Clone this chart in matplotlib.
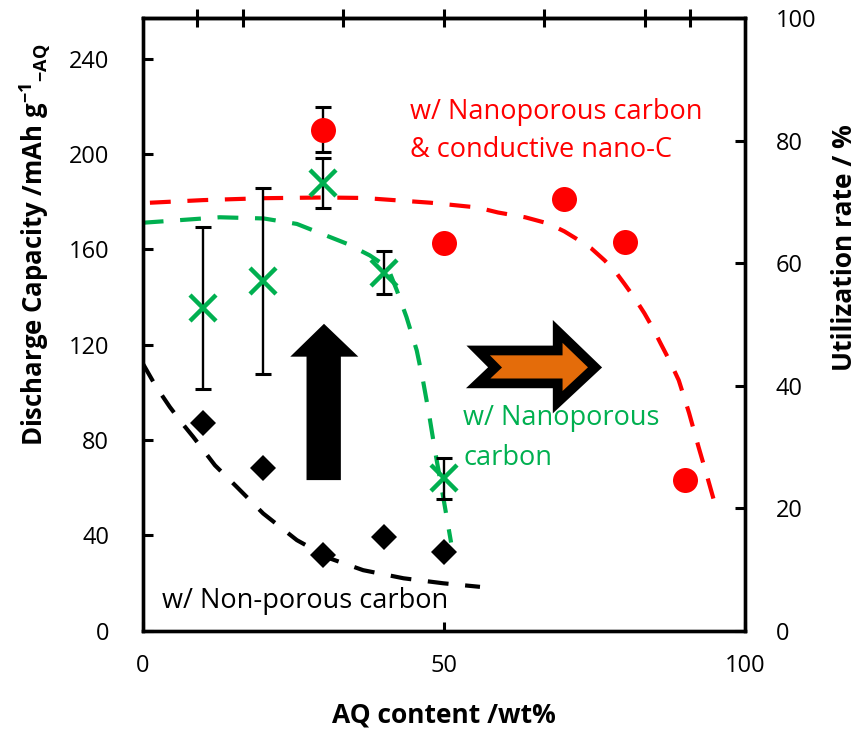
import matplotlib
matplotlib.use('Agg')
import matplotlib.pyplot as plt
from matplotlib.patches import Polygon

plt.rcParams['font.family'] = ['Open Sans', 'DejaVu Sans']
plt.rcParams['mathtext.fontset'] = 'custom'
plt.rcParams['mathtext.rm'] = 'Open Sans'
plt.rcParams['mathtext.bf'] = 'Open Sans:bold'

# measured points, AQ content (wt%) vs discharge capacity (mAh g-1 AQ)
aq_wt = [10, 20, 30, 40, 50]
cap_nonporous = [87, 68.2, 31.7, 39.2, 33]
cap_nanoporous = [135.6, 146.6, 188, 150.3, 64]
err_nanoporous = [34, 39, 10.5, 9, 8.6]
aq_wt_nanoC = [30, 50, 70, 80, 90]
cap_nanoC = [210.3, 162.5, 181.2, 163.2, 63.2]
err_nanoC = [9.3]  # only the 30 wt% point has an error bar

# hand-drawn guide curves
black_fit_x = [0, 2.2, 4.5, 6.5, 8.4, 12, 15.6, 20, 25.6, 31.1, 36.6, 43.3, 49.9, 56]
black_fit_y = [112.2, 102.5, 93.9, 87.2, 81.3, 69.4, 60.4, 49.2, 38, 30.3, 25.4, 22, 19.9, 18.4]
green_fit_x = [0, 3.4, 12.8, 20.1, 25.6, 30.5, 33.9, 37.7, 39.6, 41.1, 42.2, 43.8,
               45.5, 46.5, 47.5, 48.5, 49.9, 51.2]
green_fit_y = [171.2, 171.8, 173.5, 173, 170.7, 165.8, 162.4, 157.5, 154.3, 149.8, 142.8, 131.6,
               117.6, 105.5, 91.5, 76, 56, 37]
red_fit_x = [1.2, 10, 20, 30, 36.7, 47.8, 55.6, 59, 63.5, 67.3, 70, 72, 74.5, 76.7, 78.5,
             80, 81.7, 83.3, 84.7, 86, 87.5, 89, 90.7, 92.3, 93.8, 95.3]
red_fit_y = [179.6, 180.7, 181.5, 181.8, 181.6, 179.6, 177.6, 175.5, 173.5, 170.9, 167.6,
             164.5, 160.4, 155.4, 150.6, 145.5, 139.5, 133.2, 127, 120.5, 113.2, 105.1,
             91.5, 77, 64, 50.6]

theoretical_cap = 257  # 100 % utilization
left_ticks = [0, 40, 80, 120, 160, 200, 240]
right_ticks = [0, 20, 40, 60, 80, 100]
bottom_ticks = [0, 50, 100]
top_ticks = [100 / 11, 100 / 6, 100 / 3, 50, 200 / 3, 500 / 6, 1000 / 11]

RED = '#FF0000'
GREEN = '#00B050'
ORANGE = '#E46C0A'

fig = plt.figure(figsize=(8.66, 7.39), dpi=100)
ax = fig.add_axes([142.7 / 866, 1 - 630.7 / 739, 602.3 / 866, 612.4 / 739])

ax.plot(red_fit_x, red_fit_y, color=RED, lw=3, dashes=(5, 4), zorder=2)
ax.plot(green_fit_x, green_fit_y, color=GREEN, lw=3, dashes=(5, 4), zorder=2)
ax.plot(black_fit_x, black_fit_y, color='black', lw=3, dashes=(5, 4), zorder=2)

ax.errorbar(aq_wt, cap_nanoporous, yerr=err_nanoporous, fmt='none', ecolor='black',
            elinewidth=1.7, capsize=6, capthick=2.2, zorder=3)
ax.errorbar(aq_wt_nanoC[:1], cap_nanoC[:1], yerr=err_nanoC, fmt='none', ecolor='black',
            elinewidth=1.7, capsize=6, capthick=2.2, zorder=3)

ax.plot(aq_wt, cap_nonporous, 'D', color='black', ms=13.5, mew=0, zorder=4)
ax.plot(aq_wt, cap_nanoporous, 'x', color=GREEN, ms=19, mew=3.2, zorder=4)
ax.plot(aq_wt_nanoC, cap_nanoC, 'o', color=RED, ms=18, mew=0, zorder=4)

# arrows
up_arrow = Polygon([(27.2, 63.2), (32.9, 63.2), (32.9, 115), (35.8, 115), (30.1, 128.8),
                    (24.5, 115), (27.2, 115)], closed=True, facecolor='black',
                   edgecolor='none', zorder=3)
ax.add_patch(up_arrow)
right_arrow = Polygon([(55.7, 117.6), (68.9, 117.6), (68.9, 125.6), (75.1, 110.5),
                       (68.9, 95.9), (68.9, 103.8), (55.7, 103.8), (58.5, 110.5)],
                      closed=True, facecolor=ORANGE, edgecolor='black', lw=7,
                      joinstyle='miter', zorder=5)
ax.add_patch(right_arrow)

# annotations
fs = 19.5
ax.text(44.4, 214.8, 'w/ Nanoporous carbon', color=RED, fontsize=fs, va='baseline')
ax.text(44.4, 198.7, '& conductive nano-C', color=RED, fontsize=fs, va='baseline')
ax.text(53.2, 86.2, 'w/ Nanoporous', color=GREEN, fontsize=fs, va='baseline')
ax.text(53.2, 69.4, 'carbon', color=GREEN, fontsize=fs, va='baseline')
ax.text(3.15, 9.4, 'w/ Non-porous carbon', color='black', fontsize=fs, va='baseline')

ax.set_xlim(0, 100)
ax.set_ylim(0, theoretical_cap)
ax.set_xticks(bottom_ticks)
ax.set_yticks(left_ticks)
ax.tick_params(axis='y', direction='in', length=7, width=2.2, labelsize=17, pad=24)
ax.tick_params(axis='x', direction='in', length=6.5, width=2.2, labelsize=17, pad=17)

ax.set_xlabel('AQ content /wt%', fontsize=19, fontweight='bold', va='center')
ax.xaxis.set_label_coords(0.5, (630.7 - 715) / 612.4)
ax.set_ylabel(r'Discharge Capacity /mAh g$^{\mathbf{-1}}{}_{\mathbf{-AQ}}$',
              fontsize=18.5, fontweight='bold', va='center')
ax.yaxis.set_label_coords((35 - 142.7) / 602.3, (630.7 - 245) / 612.4)

ax_r = ax.twinx()
ax_r.set_ylim(0, 100)
ax_r.set_yticks(right_ticks)
ax_r.tick_params(axis='y', direction='in', length=7, width=2.2, labelsize=17, pad=22)
ax_r.set_ylabel('Utilization rate / %', fontsize=19, fontweight='bold', va='center')
ax_r.yaxis.set_label_coords((844 - 142.7) / 602.3, (630.7 - 247.5) / 612.4)

top = ax.secondary_xaxis('top')
top.set_xticks(top_ticks)
top.tick_params(axis='x', direction='inout', length=13.5, width=2.2, labeltop=False)

for a in (ax, ax_r, top):
    for s in a.spines.values():
        s.set_linewidth(2.4)

fig.savefig('out.png', dpi=100)
